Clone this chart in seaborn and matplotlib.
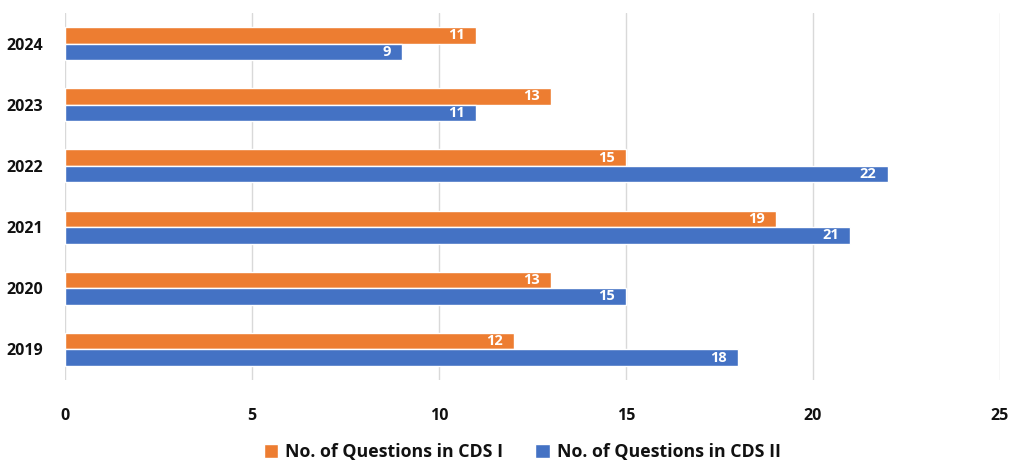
import matplotlib
matplotlib.use("Agg")
import matplotlib.pyplot as plt
import seaborn as sns
import pandas as pd

years = ["2024", "2023", "2022", "2021", "2020", "2019"]
cds1 = [11, 13, 15, 19, 13, 12]
cds2 = [9, 11, 22, 21, 15, 18]
series_names = ["No. of Questions in CDS I", "No. of Questions in CDS II"]
xticks = [0, 5, 10, 15, 20, 25]

df = pd.DataFrame({
    "Year": years * 2,
    "Value": cds1 + cds2,
    "Series": [series_names[0]] * len(years) + [series_names[1]] * len(years),
})

sns.set_theme(style="white")
plt.rcParams["font.family"] = ["Open Sans", "DejaVu Sans"]

fig = plt.figure(figsize=(10.24, 4.65), dpi=100)
ax = fig.add_axes([0.0635, 0.183, 0.913, 0.789])

palette = {series_names[0]: "#ED7D31", series_names[1]: "#4472C4"}
sns.barplot(data=df, x="Value", y="Year", hue="Series", order=years,
            hue_order=series_names, palette=palette, orient="h",
            width=0.54, saturation=1, ax=ax, legend=True)

for cont in ax.containers:
    labels_ = [f"{int(v)}" for v in cont.datavalues]
    texts = ax.bar_label(cont, labels=labels_, label_type="edge", padding=-8,
                         color="white", fontsize=10.5, fontweight="bold")
    for t in texts:
        t.set_horizontalalignment("right")

ax.set_xlim(0, 25)
ax.set_ylim(5.5, -0.5)
ax.set_xticks(xticks)
ax.set_xticklabels([str(t) for t in xticks])
ax.xaxis.grid(True, color="#D9D9D9", linewidth=1)
ax.set_axisbelow(True)
for s in ["top", "right", "bottom", "left"]:
    ax.spines[s].set_visible(False)
ax.set_xlabel("")
ax.set_ylabel("")
ax.tick_params(axis="x", length=0, pad=20, labelsize=11.5)
ax.tick_params(axis="y", length=0, pad=16, labelsize=11.5)
for lbl in ax.get_xticklabels() + ax.get_yticklabels():
    lbl.set_fontweight("bold")
    lbl.set_color("#111111")

handles, labels = ax.get_legend_handles_labels()
ax.legend_.remove()
leg = fig.legend(handles, labels, loc="center", bbox_to_anchor=(0.51, 0.028),
                 ncol=2, frameon=False, handlelength=0.8, handleheight=0.8,
                 handletextpad=0.4, columnspacing=1.8,
                 prop={"weight": "bold", "size": 12.8})
for t in leg.get_texts():
    t.set_color("#111111")

fig.savefig("out.png", dpi=100)
